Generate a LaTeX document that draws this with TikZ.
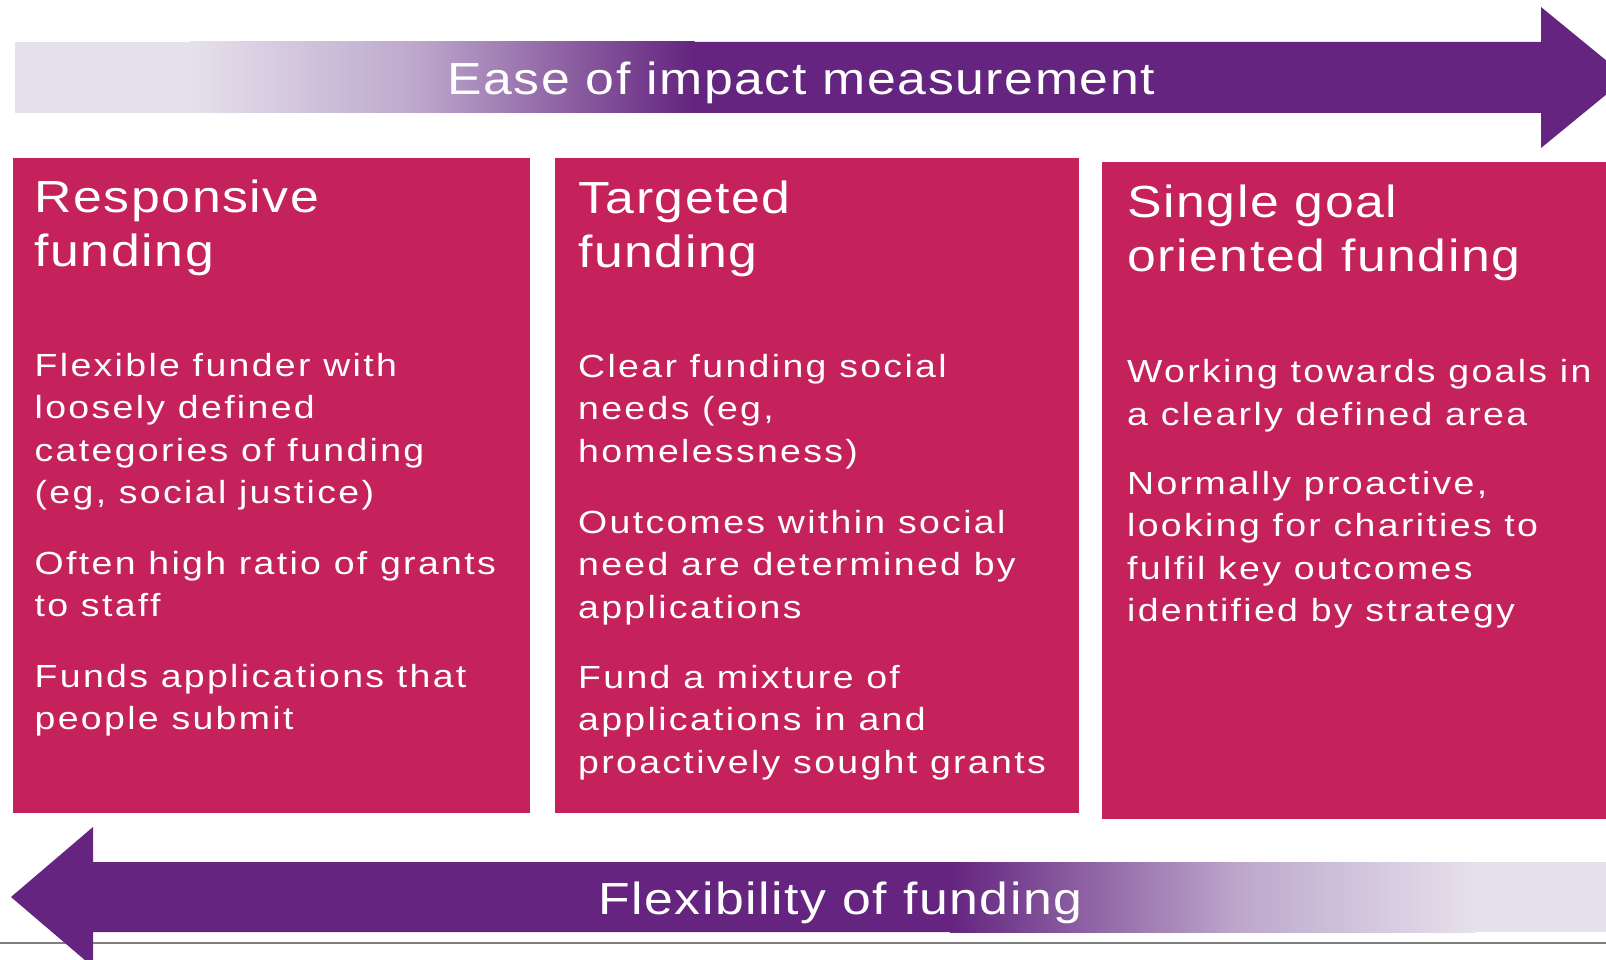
\documentclass[tikz,border=0pt]{standalone}
\usepackage{fontspec}
\setmainfont{Liberation Sans}
\newfontfamily\bigf[FakeStretch=1.15,LetterSpace=3.5]{Liberation Sans}
\newfontfamily\smallf[FakeStretch=1.17,LetterSpace=7.3]{Liberation Sans}
\definecolor{mag}{HTML}{C5215B}
\definecolor{purp}{HTML}{64247F}
\definecolor{lav}{HTML}{E6E0EC}
\definecolor{midlav}{HTML}{BDA8CC}
\definecolor{rulegray}{HTML}{7F7F7F}
\tikzset{
  box/.style={fill=mag},
  arrowlabel/.style={text=white,inner sep=0pt,anchor=base west,font=\bigf\fontsize{45}{54}\selectfont},
  boxtitle/.style={text=white,inner sep=0pt,anchor=base west,align=left,font=\bigf\fontsize{45}{54}\selectfont},
  boxtext/.style={text=white,inner sep=0pt,anchor=base west,align=left,font=\smallf\fontsize{32}{42.5}\selectfont},
}
\begin{document}
\begin{tikzpicture}[x=1pt,y=-1pt]
\useasboundingbox (0,0) rectangle (1606,960);
\clip (0,0) rectangle (1606,960);
% rule
\draw[rulegray,line width=2pt] (0,943) -- (1606,943);
% top arrow
\fill[lav] (15,42) rectangle (190.5,113);
\shade[left color=lav,right color=midlav] (190,42) rectangle (415.5,113);
\shade[left color=midlav,right color=purp] (415,42) rectangle (694.5,113);
\fill[purp] (694,42) -- (1541,42) -- (1541,7) -- (1627,77.5) -- (1541,148) -- (1541,113) -- (694,113) -- cycle;
\node[arrowlabel] (ease) at (447,95) {Ease of impact measurement};
% bottom arrow
\fill[purp] (11,897) -- (93,827) -- (93,862) -- (950.5,862) -- (950.5,932) -- (93,932) -- (93,967) -- cycle;
\shade[left color=purp,right color=midlav] (950,862) rectangle (1240.5,932);
\shade[left color=midlav,right color=lav] (1240,862) rectangle (1475.5,932);
\fill[lav] (1475,862) rectangle (1606,932);
\node[arrowlabel] (flex) at (598,914.5) {Flexibility of funding};
% boxes
\fill[box] (13,158) rectangle (530,813);
\fill[box] (555,158) rectangle (1079,813);
\fill[box] (1102,162) rectangle (1606,819);
% box 1 (anchors are on the last line's baseline)
\node[boxtitle] (t1) at (34.5,266) {Responsive\\funding};
\node[boxtext] (a1) at (34.5,503.5) {Flexible funder with\\loosely defined\\categories of funding\\(eg, social justice)};
\node[boxtext] (a2) at (34.5,616.5) {Often high ratio of grants\\to staff};
\node[boxtext] (a3) at (34.5,729.5) {Funds applications that\\people submit};
% box 2
\node[boxtitle] (t2) at (578,267) {Targeted\\funding};
\node[boxtext] (b1) at (578,462) {Clear funding social\\needs (eg,\\homelessness)};
\node[boxtext] (b2) at (578,618) {Outcomes within social\\need are determined by\\applications};
\node[boxtext] (b3) at (578,773) {Fund a mixture of\\applications in and\\proactively sought grants};
% box 3
\node[boxtitle] (t3) at (1127,271) {Single goal\\oriented funding};
\node[boxtext] (c1) at (1127,425) {Working towards goals in\\a clearly defined area};
\node[boxtext] (c2) at (1127,621.5) {Normally proactive,\\looking for charities to\\fulfil key outcomes\\identified by strategy};
\end{tikzpicture}
\end{document}
